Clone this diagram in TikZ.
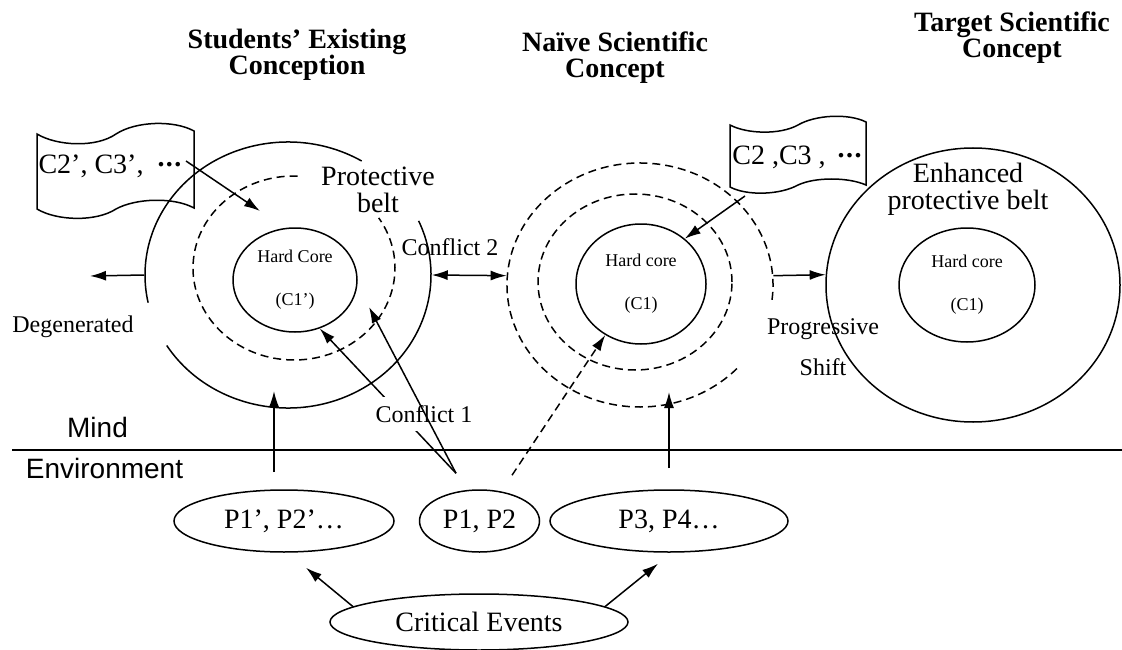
\documentclass[tikz,border=0pt]{standalone}
\usepackage{fontspec}
\setmainfont{Liberation Serif}
\setsansfont{Liberation Sans}
\usepackage{graphicx}
\usetikzlibrary{calc}
\usetikzlibrary{shapes.geometric}
\usetikzlibrary{arrows.meta}

\newcommand{\bigtxt}{\fontsize{28}{27}\selectfont}
\newcommand{\midtxt}{\fontsize{24}{41}\selectfont}
\newcommand{\coretxt}{\fontsize{18}{43}\selectfont}
\newcommand{\headtxt}{\fontsize{28}{26}\selectfont\bfseries}
\newcommand{\mdots}{\raisebox{0.22em}{\textbf{.\kern1.5pt.\kern1.5pt.}}}

\tikzset{
  belt/.style={ellipse, inner sep=0pt},
  core/.style={draw, ellipse, inner sep=0pt, align=center, font=\coretxt},
  event/.style={draw, ellipse, inner sep=0pt},
  txt/.style={align=center, inner sep=0pt},
}

\begin{document}
\begin{tikzpicture}[x=1pt, y=-1pt, line width=1.5pt, >={Latex[length=16pt,width=10pt]}, every node/.style={font=\bigtxt}]

        \useasboundingbox (0,0) rectangle (1122,650);

        \node[txt, font=\headtxt] (head1) at (297,55) {Students’ Existing\\Conception};
        \node[txt, font=\headtxt] (head2) at (615,58) {Naïve Scientific\\Concept};
        \node[txt, font=\headtxt] (head3) at (1012,38) {Target Scientific\\Concept};

        % students' conception
        \node[belt, minimum width=286pt, minimum height=266pt] (belt1) at (288,275) {};
        \coordinate (ring1) at (294,268);
        \node[core, minimum width=124pt, minimum height=104pt] (core1) at (295,280) {Hard Core\\(C1’)};
        \draw (belt1.center) ++(-59:143 and 133) arc[start angle=-59, end angle=-192, x radius=143, y radius=133];
        \draw (belt1.center) ++(-212:143 and 133) arc[start angle=-212, end angle=-384, x radius=143, y radius=133];
        \draw[dashed, dash pattern=on 8pt off 5pt] (ring1) ++(-88:101 and 92) arc[start angle=-88, end angle=-393, x radius=101, y radius=92];
        \node[txt] (prot) at (378,190) {Protective\\belt};

        % naive concept
        \node[belt, minimum width=266pt, minimum height=244pt] (belt2) at (640,285) {};
        \node[draw, ellipse, dash pattern=on 8pt off 5pt, minimum width=194pt, minimum height=176pt] (ring2) at (635,282) {};
        \node[core, minimum width=130pt, minimum height=120pt] (core2) at (641,284) {Hard core\\(C1)};
        \draw[dash pattern=on 8pt off 5pt] (belt2.center) ++(7:133 and 122) arc[start angle=7, end angle=-318.5, x radius=133, y radius=122];

        % target concept
        \node[draw, ellipse, minimum width=294pt, minimum height=274pt] (belt3) at (973,285) {};
        \node[core, minimum width=136pt, minimum height=114pt] (core3) at (967,285) {Hard core\\(C1)};
        \node[txt] (enh) at (968,189) {Enhanced\\protective belt};

        % auxiliary hypotheses
        \draw (37,134) .. controls (57,146) and (96,148) .. (116,134) .. controls (136,121) and (174,120) .. (194,131)
          -- (194,208) .. controls (174,197) and (136,198) .. (116,209) .. controls (96,222) and (57,221) .. (37,209) -- cycle;
        \node[txt] (scr1) at (110,166) {C2’, C3’,\hspace{14pt}\mdots};
        \draw (730,125) .. controls (747,134) and (780,135) .. (798,125) .. controls (815,115) and (848,113) .. (866,122)
          -- (866,185) .. controls (848,177) and (815,177) .. (798,185) .. controls (780,195) and (747,196) .. (730,187) -- cycle;
        \node[txt] (scr2) at (797,157) {C2 ,C3 ,\hspace{12pt}\mdots};

        % mind / environment
        \coordinate (divl) at (12,450);
        \coordinate (divr) at (1122,450);
        \draw (divl) -- (divr);
        \node[txt, font=\sffamily\bigtxt] (mind) at (97.5,427) {Mind};
        \node[txt, font=\sffamily\bigtxt] (env) at (104.5,468) {Environment};

        % phenomena
        \node[event, minimum width=220pt, minimum height=62pt] (p1) at (284,521) {P1’, P2’…};
        \node[event, minimum width=120pt, minimum height=62pt] (p12) at (479.5,521) {P1, P2};
        \node[event, minimum width=238pt, minimum height=62pt] (p34) at (669,521) {P3, P4…};
        \node[event, minimum width=298pt, minimum height=56pt] (cev) at (479,622) {Critical Events};

        % labels
        \node[txt, font=\midtxt] (deg) at (73,327) {Degenerated};
        \node[txt, font=\midtxt] (cf2) at (450,247) {Conflict 2};
        \node[txt, font=\midtxt] (prog) at (823,347) {Progressive\\Shift};

        % free ends
        \coordinate (degtip) at (90,276);
        \coordinate (scr1out) at (186,161);
        \coordinate (core1in) at (260,211);
        \coordinate (scr2out) at (745,196);
        \coordinate (up1) at (274,472);
        \coordinate (up1tip) at (274,391);
        \coordinate (up2) at (669,468);
        \coordinate (up2tip) at (669,392);
        \coordinate (p12l) at ($(p12.north)+(-23.5,-16)$);
        \coordinate (p12r) at ($(p12.north)+(32.5,-14)$);
        \coordinate (beltin1) at (369,307);
        \coordinate (cevl) at ($(p1.south)+(22,15)$);
        \coordinate (cevr) at ($(p34.south)+(-11,11)$);

        \path [->]
          (belt1.west) edge [] (degtip)
          (scr1out) edge [] (core1in)
          (scr2out) edge [] (core2.46)
          (belt2.4) edge [] (belt3.176)
          (up1) edge [] (up1tip)
          (up2) edge [] (up2tip)
          (cev.173) edge [] (cevl)
          (cev.7) edge [] (cevr)
          (p12r) edge [dash pattern=on 8pt off 5pt] (core2.235);

        \draw [<->] (belt1.east) -- (belt2.176);

        \draw [->] (p12l) -- (core1.297);
        \node[txt, font=\midtxt, fill=white, inner xsep=3pt, inner ysep=8pt] (cf1) at (424,414) {Conflict 1};
        \draw [->] (p12l) -- (beltin1);

      \end{tikzpicture}
\end{document}
